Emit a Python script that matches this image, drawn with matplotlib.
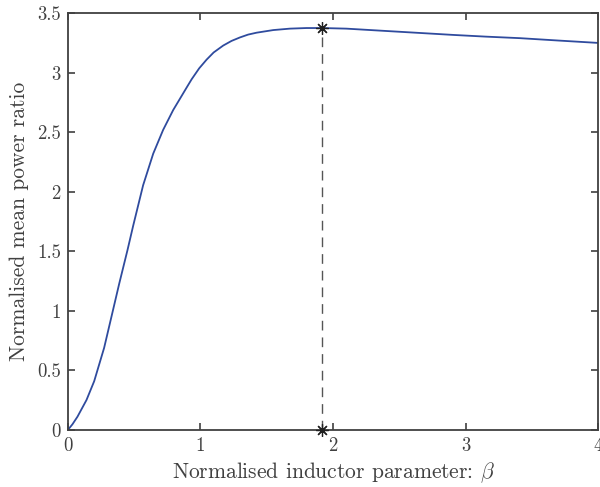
import numpy as np
import matplotlib
matplotlib.use("Agg")
import matplotlib.pyplot as plt

# Courbe
beta = [0.0, 0.035, 0.073, 0.141, 0.199, 0.274, 0.33, 0.388, 0.45, 0.493,
        0.568, 0.644, 0.719, 0.795, 0.83, 0.896, 0.934, 0.991, 1.047, 1.1,
        1.172, 1.235, 1.298, 1.36, 1.424, 1.55, 1.675, 1.8, 1.92, 2.1,
        2.405, 2.65, 2.91, 3.15, 3.41, 3.7, 4.0]
ratio = [0.0, 0.048, 0.112, 0.252, 0.41, 0.69, 0.955, 1.23, 1.51, 1.715,
         2.055, 2.32, 2.52, 2.687, 2.752, 2.875, 2.945, 3.037, 3.11, 3.17,
         3.228, 3.267, 3.296, 3.32, 3.336, 3.358, 3.37, 3.375, 3.375, 3.37,
         3.35, 3.334, 3.317, 3.303, 3.29, 3.27, 3.25]

# Maximum
beta_opt = 1.92
ratio_opt = 3.375

plt.rcParams['font.family'] = 'serif'
plt.rcParams['font.serif'] = ['cmr10', 'DejaVu Serif']
plt.rcParams['mathtext.fontset'] = 'cm'
plt.rcParams['axes.formatter.use_mathtext'] = True

axc = '#404040'
fig = plt.figure(figsize=(6, 4.87), dpi=100)
ax = fig.add_axes([0.113, 0.117, 0.884, 0.856])

ax.plot(beta, ratio, color='#2f4b9e', lw=1.3, solid_joinstyle='round')
ax.plot([beta_opt, beta_opt], [0, ratio_opt], color='#555555', lw=1.0,
        ls=(0, (7, 5)))
ax.plot([beta_opt, beta_opt], [0, ratio_opt], ls='none', marker=(8, 2, 0),
        ms=9, mew=0.9, color='#202020', clip_on=False, zorder=5)

ax.set_xlim(0, 4)
ax.set_ylim(0, 3.5)
ax.set_xticks([0, 1, 2, 3, 4])
ax.set_xticklabels(['0', '1', '2', '3', '4'])
ax.set_yticks([0, 0.5, 1, 1.5, 2, 2.5, 3, 3.5])
ax.set_yticklabels(['0', '0.5', '1', '1.5', '2', '2.5', '3', '3.5'])
ax.tick_params(direction='in', top=True, right=True, length=5, width=1.2,
               colors=axc, labelsize=13.5, labelcolor=axc, pad=5)
for s in ax.spines.values():
    s.set_color(axc)
    s.set_linewidth(1.3)

ax.set_xlabel(r'Normalised inductor parameter: $\beta$', fontsize=15.5,
              color=axc, labelpad=4)
ax.set_ylabel('Normalised mean power ratio', fontsize=15.5, color=axc,
              labelpad=6)

fig.savefig('out.png', dpi=100)
